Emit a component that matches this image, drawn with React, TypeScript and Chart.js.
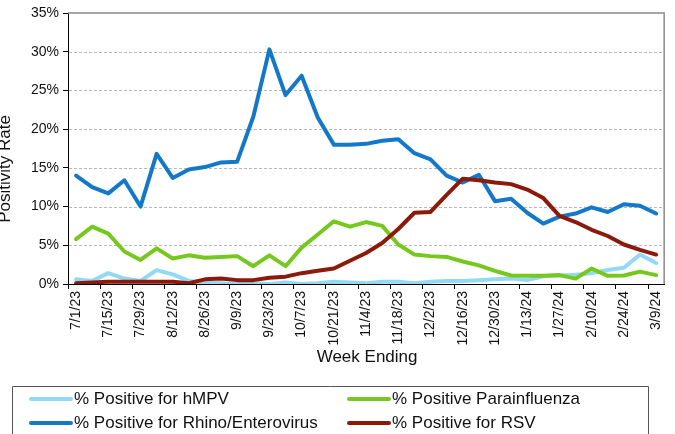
import React, { useEffect, useRef } from 'react';
import { Chart, registerables } from 'chart.js';

Chart.register(...registerables);

const weeks = [
  '7/1/23', '7/8/23', '7/15/23', '7/22/23', '7/29/23', '8/5/23', '8/12/23', '8/19/23', '8/26/23',
  '9/2/23', '9/9/23', '9/16/23', '9/23/23', '9/30/23', '10/7/23', '10/14/23', '10/21/23', '10/28/23',
  '11/4/23', '11/11/23', '11/18/23', '11/25/23', '12/2/23', '12/9/23', '12/16/23', '12/23/23', '12/30/23',
  '1/6/24', '1/13/24', '1/20/24', '1/27/24', '2/3/24', '2/10/24', '2/17/24', '2/24/24', '3/2/24', '3/9/24',
];

const hmpv = [0.6, 0.4, 1.4, 0.7, 0.4, 1.8, 1.25, 0.4, 0.2, 0.1, 0.0, 0.1, 0.0, 0.2, 0.0, 0.1, 0.3, 0.2, 0.1, 0.3, 0.3, 0.1, 0.3, 0.4, 0.4, 0.5, 0.6, 0.7, 0.5, 1.0, 1.1, 1.2, 1.4, 1.8, 2.1, 3.8, 2.7];
const parainfluenza = [5.8, 7.4, 6.5, 4.2, 3.1, 4.6, 3.3, 3.7, 3.4, 3.5, 3.6, 2.3, 3.7, 2.3, 4.7, 6.4, 8.1, 7.4, 8.0, 7.5, 5.1, 3.8, 3.6, 3.5, 2.9, 2.4, 1.7, 1.1, 1.05, 1.05, 1.15, 0.7, 2.0, 1.05, 1.1, 1.6, 1.15];
const rhino = [14.0, 12.5, 11.7, 13.4, 10.0, 16.8, 13.7, 14.8, 15.1, 15.7, 15.8, 21.6, 30.3, 24.4, 26.9, 21.5, 18.0, 18.0, 18.1, 18.5, 18.7, 16.9, 16.1, 14.0, 13.1, 14.1, 10.7, 11.0, 9.2, 7.8, 8.7, 9.1, 9.9, 9.3, 10.3, 10.1, 9.1];
const rsv = [0.1, 0.2, 0.3, 0.3, 0.3, 0.3, 0.3, 0.1, 0.6, 0.7, 0.5, 0.5, 0.8, 0.95, 1.4, 1.7, 2.0, 3.0, 4.0, 5.3, 7.1, 9.2, 9.3, 11.5, 13.6, 13.4, 13.1, 12.9, 12.2, 11.1, 8.8, 8.0, 7.0, 6.2, 5.1, 4.4, 3.8];

const seriesNames = [
  '% Positive for hMPV',
  '% Positive Parainfluenza',
  '% Positive for Rhino/Enterovirus',
  '% Positive for RSV',
];
const seriesColors = ['#93D9F5', '#76C81E', '#1478C8', '#8B1A0B'];
const yGridValues = [5, 10, 15, 20, 25, 30];
const yTitle = 'Positivity Rate';
const xTitle = 'Week Ending';

const FONT = '"Liberation Sans", Arial, sans-serif';

const framePlugin = {
  id: 'frame',
  beforeDatasetsDraw(chart: any) {
    const { ctx, chartArea: a, scales } = chart;
    const y = scales.y;
    ctx.save();
    ctx.strokeStyle = '#b8b8b8';
    ctx.lineWidth = 1;
    ctx.setLineDash([3, 2]);
    for (const v of yGridValues) {
      const py = Math.round(y.getPixelForValue(v)) + 0.5;
      ctx.beginPath();
      ctx.moveTo(a.left + 1, py);
      ctx.lineTo(a.right, py);
      ctx.stroke();
    }
    ctx.setLineDash([]);
    ctx.strokeStyle = '#8a8a8a';
    ctx.lineWidth = 1.5;
    ctx.beginPath();
    ctx.moveTo(a.left, a.top);
    ctx.lineTo(a.right, a.top);
    ctx.lineTo(a.right, a.bottom);
    ctx.stroke();
    ctx.restore();
  },
  afterDraw(chart: any) {
    const { ctx, chartArea: a } = chart;
    ctx.save();
    ctx.fillStyle = '#111';
    ctx.font = `17px ${FONT}`;
    ctx.textAlign = 'center';
    ctx.textBaseline = 'middle';
    ctx.save();
    ctx.translate(5, 169);
    ctx.rotate(-Math.PI / 2);
    ctx.fillText(yTitle, 0, 0);
    ctx.restore();
    ctx.fillText(xTitle, (a.left + a.right) / 2 + 1, 357);

    ctx.strokeStyle = '#555';
    ctx.lineWidth = 1;
    ctx.beginPath();
    ctx.moveTo(12.5, 440);
    ctx.lineTo(12.5, 386.5);
    ctx.lineTo(648.5, 386.5);
    ctx.lineTo(648.5, 440);
    ctx.stroke();

    const cols = [31, 349];
    const rows = [399, 423];
    ctx.textAlign = 'left';
    ctx.font = `17px ${FONT}`;
    for (let i = 0; i < seriesNames.length; i++) {
      const cx = cols[i % 2];
      const cy = rows[Math.floor(i / 2)];
      ctx.strokeStyle = seriesColors[i];
      ctx.lineWidth = 4;
      ctx.lineCap = 'round';
      ctx.beginPath();
      ctx.moveTo(cx, cy);
      ctx.lineTo(cx + 40, cy);
      ctx.stroke();
      ctx.fillStyle = '#111';
      ctx.fillText(seriesNames[i], cx + 43, cy);
    }
    ctx.restore();
  },
};

export default function App() {
  const ref = useRef<HTMLCanvasElement | null>(null);

  useEffect(() => {
    if (!ref.current) return;
    const values = [hmpv, parainfluenza, rhino, rsv];
    const chart = new Chart(ref.current, {
      type: 'line',
      data: {
        labels: weeks,
        datasets: values.map((d, i) => ({
          label: seriesNames[i],
          data: d,
          borderColor: seriesColors[i],
          backgroundColor: seriesColors[i],
          borderWidth: 4,
          pointRadius: 0,
          tension: 0,
          borderJoinStyle: 'round' as const,
          borderCapStyle: 'round' as const,
          order: 4 - i,
          fill: false,
        })),
      },
      options: {
        responsive: false,
        animation: false,
        devicePixelRatio: 1,
        layout: { padding: { left: 0, top: 13, right: 7, bottom: 0 } },
        plugins: {
          legend: { display: false },
          tooltip: { enabled: false },
          title: { display: false },
        },
        scales: {
          x: {
            type: 'category',
            offset: true,
            afterFit: (s: any) => { s.height = 150; },
            grid: {
              offset: true,
              drawOnChartArea: false,
              drawTicks: true,
              tickLength: 5,
              tickColor: (c: any) => (typeof c.index === 'number' && c.index % 2 === 0 ? '#000' : 'rgba(0,0,0,0)'),
            },
            border: { display: true, color: '#000', width: 1 },
            ticks: {
              autoSkip: false,
              minRotation: 90,
              maxRotation: 90,
              padding: 2,
              color: '#111',
              font: { family: FONT, size: 14 },
              callback: (_v: any, i: number) => (i % 2 === 0 ? weeks[i] : ''),
            },
          },
          y: {
            min: 0,
            max: 35,
            afterFit: (s: any) => { s.width = 68; },
            grid: {
              drawOnChartArea: false,
              drawTicks: true,
              tickLength: 5,
              tickColor: '#000',
            },
            border: { display: true, color: '#000', width: 1 },
            ticks: {
              stepSize: 5,
              padding: 4,
              color: '#111',
              font: { family: FONT, size: 14 },
              callback: (v: any) => `${v}%`,
            },
          },
        },
      },
      plugins: [framePlugin],
    });
    return () => chart.destroy();
  }, []);

  return (
    <div style={{ position: 'absolute', left: 0, top: 0, width: 675, height: 434, background: '#fff' }}>
      <canvas ref={ref} width={675} height={434} />
    </div>
  );
}
